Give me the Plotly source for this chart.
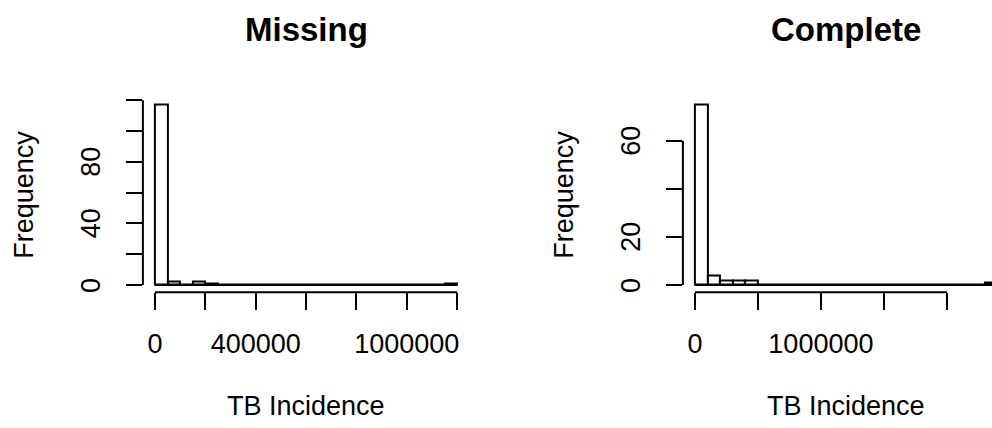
import plotly.graph_objects as go

# ---- data ----
panel_titles = ["Missing", "Complete"]
x_label = "TB Incidence"
y_label = "Frequency"

missing_bin_width = 50000
missing_counts = [117, 2, 0, 2, 1, 0, 0, 0, 0, 0, 0, 0, 0, 0, 0, 0, 0, 0, 0, 0, 0, 0, 0, 1]
missing_xticks = [0, 200000, 400000, 600000, 800000, 1000000, 1200000]
missing_xticklabels = ["0", "", "400000", "", "", "1000000", ""]
missing_yticks = [0, 20, 40, 60, 80, 100, 120]
missing_yticklabels = ["0", "", "40", "", "80", "", ""]

complete_bin_width = 100000
complete_counts = [75, 4, 2, 2, 2, 0, 0, 0, 0, 0, 0, 0, 0, 0, 0, 0, 0, 0, 0, 0, 0, 0, 0, 1]
complete_xticks = [0, 500000, 1000000, 1500000, 2000000]
complete_xticklabels = ["0", "", "1000000", "", ""]
complete_yticks = [0, 20, 40, 60]
complete_yticklabels = ["0", "20", "", "60"]

# ---- layout geometry (pixels) ----
W, H = 992, 428
FONT = "Liberation Sans, Arial, Helvetica, sans-serif"
FS = 27
plot_top_px, plot_bot_px = 97.6, 292.2
panel_left_px = [142.9, 682.9]
panel_w_px = 326.4

def py(p):
    return 1 - p / H

fig = go.Figure()
panels = [
    (missing_counts, missing_bin_width, missing_xticks, missing_xticklabels, missing_yticks, missing_yticklabels),
    (complete_counts, complete_bin_width, complete_xticks, complete_xticklabels, complete_yticks, complete_yticklabels),
]

annotations = []
shapes = []
for i, (counts, bw, xt, xtl, yt, ytl) in enumerate(panels):
    n = i + 1
    xa = "x" if n == 1 else f"x{n}"
    ya = "y" if n == 1 else f"y{n}"
    edges = [k * bw for k in range(len(counts) + 1)]
    centers = [(edges[k] + edges[k + 1]) / 2 for k in range(len(counts))]
    fig.add_trace(go.Bar(
        x=centers, y=counts, width=[bw] * len(counts),
        marker=dict(color="white", line=dict(color="black", width=2)),
        xaxis=xa, yaxis=ya, showlegend=False, hoverinfo="x+y",
    ))
    # baseline for empty bins
    fig.add_trace(go.Scatter(
        x=[edges[0], edges[-1]], y=[0, 0], mode="lines",
        line=dict(color="black", width=2), xaxis=xa, yaxis=ya,
        showlegend=False, hoverinfo="skip",
    ))
    lo, hi = edges[0], edges[-1]
    span = hi - lo
    full_lo, full_hi = lo - 0.04 * span, hi + 0.04 * span
    left = panel_left_px[i]
    right = min(left + panel_w_px, W)
    r_hi = full_lo + (right - left) / panel_w_px * (full_hi - full_lo)
    ymax = max(counts)
    y_lo, y_hi = -0.04 * ymax, ymax * 1.04

    axis_common = dict(
        showgrid=False, zeroline=False, showline=False,
        ticks="outside", tickwidth=2, tickcolor="black",
        tickfont=dict(family=FONT, size=FS, color="black"),
        fixedrange=True,
    )
    fig.layout[("xaxis" if n == 1 else f"xaxis{n}")] = dict(
        axis_common, domain=[left / W, right / W], range=[full_lo, r_hi],
        anchor=ya, tickmode="array", tickvals=xt, ticktext=xtl,
        ticklen=17, ticklabelstandoff=10,
    )
    fig.layout[("yaxis" if n == 1 else f"yaxis{n}")] = dict(
        axis_common, domain=[py(plot_bot_px), py(plot_top_px)], range=[y_lo, y_hi],
        anchor=xa, tickmode="array", tickvals=yt, showticklabels=False,
        ticklen=16,
    )
    # y tick labels, parallel to the axis as in R
    for v, t in zip(yt, ytl):
        if t:
            annotations.append(dict(text=t, xref=f"{xa} domain", x=0, xshift=-52,
                                    yref=ya, y=v, xanchor="center", yanchor="middle",
                                    textangle=-90, showarrow=False,
                                    font=dict(family=FONT, size=FS, color="black")))
    # R-style axis lines spanning only the tick range
    shapes.append(dict(type="line", xref=xa, yref=f"{ya} domain",
                       x0=xt[0], x1=xt[-1], y0=0, y1=0,
                       line=dict(color="black", width=2)))
    shapes.append(dict(type="line", xref=f"{xa} domain", yref=ya,
                       x0=0, x1=0, y0=yt[0], y1=yt[-1],
                       line=dict(color="black", width=2)))
    cx = (left + panel_w_px / 2) / W
    annotations.append(dict(text=f"<b>{panel_titles[i]}</b>", x=cx, y=py(29),
                            xref="paper", yref="paper", xanchor="center", yanchor="middle",
                            showarrow=False, font=dict(family=FONT, size=33, color="black")))
    annotations.append(dict(text=x_label, x=cx, y=py(406),
                            xref="paper", yref="paper", xanchor="center", yanchor="middle",
                            showarrow=False, font=dict(family=FONT, size=FS, color="black")))
    annotations.append(dict(text=y_label, x=(left - 119) / W,
                            y=py((plot_top_px + plot_bot_px) / 2),
                            xref="paper", yref="paper", xanchor="center", yanchor="middle",
                            textangle=-90, showarrow=False,
                            font=dict(family=FONT, size=FS, color="black")))

fig.update_layout(
    width=W, height=H, autosize=False,
    margin=dict(l=0, r=0, t=0, b=0),
    paper_bgcolor="white", plot_bgcolor="white",
    bargap=0, shapes=shapes, annotations=annotations,
)

fig.write_html("out.html")
